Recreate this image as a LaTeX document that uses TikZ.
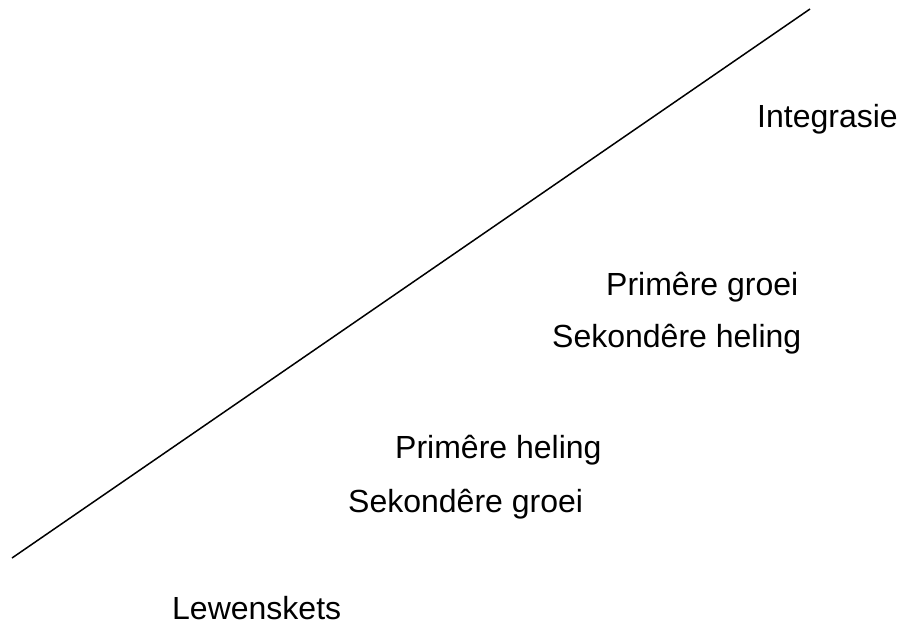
\documentclass[tikz,border=0pt]{standalone}
\usepackage{fontspec}
\setmainfont{Liberation Sans}
\begin{document}
\begin{tikzpicture}[x=1pt,y=-1pt,
  lbl/.style={anchor=base west,inner sep=0pt,font=\fontsize{32}{38}\selectfont}]
\useasboundingbox (0,0) rectangle (899,625);
\coordinate (a) at (12,558);
\coordinate (b) at (810,9);
\draw[line width=1.5pt] (a) -- (b);
\node[lbl] (int) at (757,127) {Integrasie};
\node[lbl] (pg) at (606,295) {Primêre groei};
\node[lbl] (sh) at (552,347) {Sekondêre heling};
\node[lbl] (ph) at (395,458) {Primêre heling};
\node[lbl] (sg) at (348,512) {Sekondêre groei};
\node[lbl] (lw) at (172,619) {Lewenskets};
\end{tikzpicture}
\end{document}
